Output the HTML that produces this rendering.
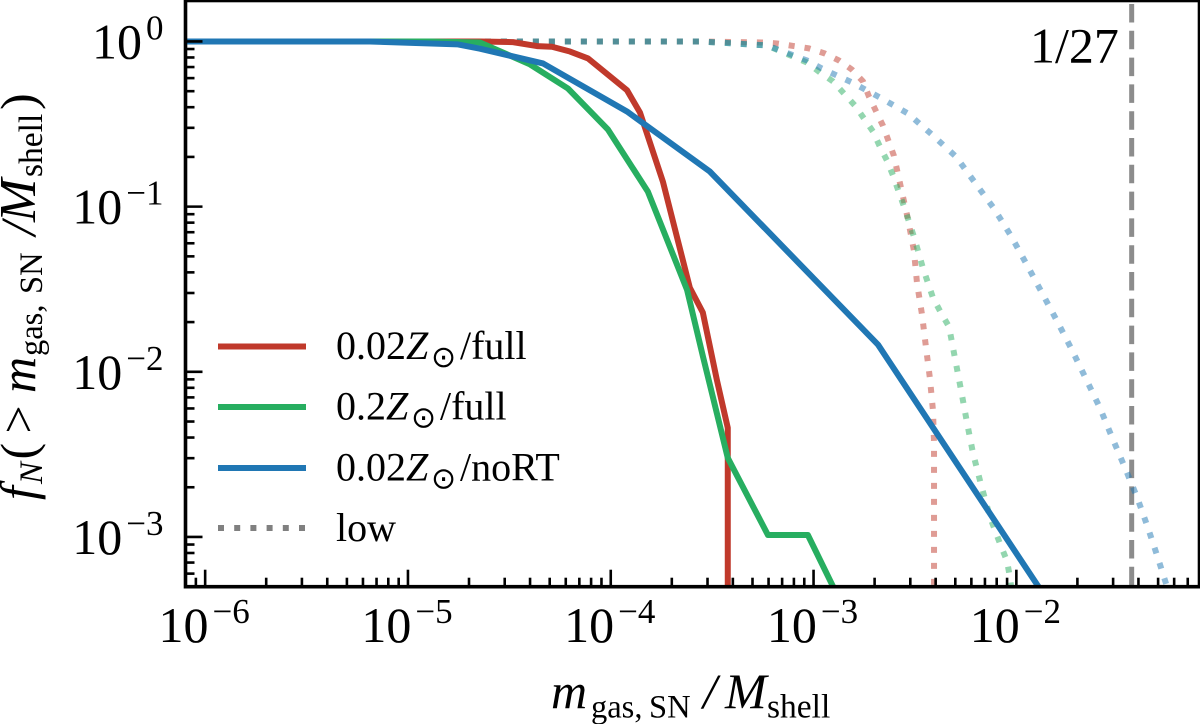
<!DOCTYPE html>
<html lang="en">
<head>
<meta charset="utf-8">
<title>Cumulative distribution of gas mass</title>
<style>
  html, body { margin: 0; padding: 0; background: #fff; }
  svg { display: block; }
  text { font-family: "Liberation Serif", "DejaVu Serif", serif; fill: #000; }
  .odot { font-family: "DejaVu Sans", sans-serif; }
</style>
</head>
<body>
<svg id="chart" xmlns="http://www.w3.org/2000/svg" width="1200" height="724" viewBox="0 0 1200 724">
  <defs>
    <clipPath id="plot-clip"><rect x="185.5" y="0.5" width="1014" height="586"/></clipPath>
  </defs>
  <g id="series" clip-path="url(#plot-clip)"></g>
  <g id="axes"></g>

  <text x="1030" y="62.5" font-size="50">1/27</text>

  <g>
    <g>
      <line x1="218" x2="306" y1="346.5" y2="346.5" stroke="#c0392b" stroke-width="6"/>
      <text x="336" y="359" font-size="40">0.02<tspan font-style="italic">Z</tspan><tspan class="odot" font-size="30" x="431" dy="8">⊙</tspan><tspan x="460" dy="-8">/full</tspan></text>
    </g>
    <g>
      <line x1="218" x2="306" y1="407" y2="407" stroke="#27ae60" stroke-width="6"/>
      <text x="336" y="419.5" font-size="40">0.2<tspan font-style="italic">Z</tspan><tspan class="odot" font-size="30" x="411" dy="8">⊙</tspan><tspan x="440" dy="-8">/full</tspan></text>
    </g>
    <g>
      <line x1="218" x2="306" y1="468" y2="468" stroke="#2077b4" stroke-width="6"/>
      <text x="336" y="480.5" font-size="40">0.02<tspan font-style="italic">Z</tspan><tspan class="odot" font-size="30" x="431" dy="8">⊙</tspan><tspan x="460" dy="-8">/noRT</tspan></text>
    </g>
    <g>
      <line x1="218" x2="306" y1="528" y2="528" stroke="#808080" stroke-width="6" stroke-dasharray="6 10.2"/>
      <text x="336" y="541" font-size="40">low</text>
    </g>
  </g>

  <text y="708" font-size="50"><tspan x="551" font-style="italic">m</tspan><tspan x="591" font-size="32.5" dy="9.5">gas,</tspan><tspan x="649" font-size="32.5">SN</tspan><tspan x="703" font-style="italic" dy="-9.5">/</tspan><tspan x="725" font-style="italic">M</tspan><tspan x="767" font-size="33.5" dy="9.5">shell</tspan></text>
  <text transform="translate(35,508) rotate(-90)" y="0" font-size="50"><tspan x="8" font-style="italic">f</tspan><tspan x="24" font-style="italic" font-size="33" dy="7">N</tspan><tspan x="48.5" dy="-7">(</tspan><tspan x="74.5">&gt;</tspan><tspan x="115" font-style="italic">m</tspan><tspan x="152" font-size="32.5" dy="7">gas,</tspan><tspan x="214" font-size="32.5">SN</tspan><tspan x="272.5" font-style="italic" dy="-7">/</tspan><tspan x="286" font-style="italic" font-size="52">M</tspan><tspan x="331" font-size="33.5" dy="7">shell</tspan><tspan x="398" dy="-7">)</tspan></text>
</svg>

<script>
// Axis tick exponents (decades)
const xTickExponents = [-6, -5, -4, -3, -2];
const yTickExponents = [0, -1, -2, -3];
const minorMultipliers = [2, 3, 4, 5, 6, 7, 8, 9];

// Axis limits
const xLimits = [8e-7, 0.08];
const yLimits = [5e-4, 1.77];

// Reference line value
const shellRatio = 1 / 27;

// Series values as log10 of mass ratio and log10 of cumulative fraction
const redFullLogMass = [-6.10, -4.645, -4.482, -4.364, -4.290, -4.201, -4.112, -3.920, -3.856, -3.743, -3.674, -3.610, -3.546, -3.477, -3.423, -3.423];
const redFullLogFrac = [0, 0, -0.004, -0.028, -0.032, -0.061, -0.103, -0.295, -0.430, -0.848, -1.182, -1.491, -1.641, -2.048, -2.339, -3.382];

const greenFullLogMass = [-6.10, -4.892, -4.645, -4.398, -4.211, -4.014, -3.817, -3.624, -3.545, -3.423, -3.225, -3.028, -2.845];
const greenFullLogFrac = [0, 0, -0.006, -0.139, -0.285, -0.533, -0.909, -1.503, -1.909, -2.521, -2.988, -2.988, -3.448];

const blueNoRtLogMass = [-6.10, -5.187, -4.753, -4.645, -4.334, -3.920, -3.511, -2.682, -1.893, -1.834];
const blueNoRtLogFrac = [0, 0, -0.018, -0.044, -0.133, -0.424, -0.788, -1.836, -3.297, -3.412];

const redLowLogMass = [-6.10, -3.56, -3.254, -3.18, -3.023, -2.944, -2.875, -2.811, -2.756, -2.727, -2.658, -2.604, -2.569, -2.535, -2.505, -2.490, -2.465, -2.446, -2.426, -2.411, -2.406, -2.406];
const redLowLogFrac = [0, 0, -0.006, -0.012, -0.042, -0.073, -0.115, -0.170, -0.242, -0.333, -0.509, -0.691, -0.885, -1.073, -1.267, -1.461, -1.655, -1.848, -2.042, -2.236, -2.430, -3.382];

const greenLowLogMass = [-6.10, -3.56, -3.23, -3.033, -2.968, -2.904, -2.850, -2.796, -2.751, -2.707, -2.673, -2.638, -2.608, -2.554, -2.505, -2.461, -2.411, -2.372, -2.332, -2.303, -2.273, -2.244, -2.214, -2.175, -2.130, -2.076, -2.046, -2.032, -2.017];
const greenLowLogFrac = [0, 0, -0.024, -0.127, -0.188, -0.242, -0.315, -0.388, -0.467, -0.545, -0.636, -0.721, -0.812, -1.0, -1.182, -1.370, -1.552, -1.642, -1.727, -1.915, -2.109, -2.303, -2.491, -2.679, -2.879, -3.055, -3.145, -3.242, -3.382];

const blueLowLogMass = [-6.10, -3.56, -3.23, -3.033, -2.959, -2.811, -2.673, -2.535, -2.416, -2.298, -2.204, -2.110, -2.027, -1.948, -1.874, -1.800, -1.726, -1.657, -1.588, -1.529, -1.464, -1.405, -1.351, -1.302, -1.252, -1.22];
const blueLowLogFrac = [0, 0, -0.024, -0.115, -0.164, -0.248, -0.339, -0.436, -0.564, -0.697, -0.855, -1.012, -1.176, -1.352, -1.521, -1.691, -1.867, -2.042, -2.218, -2.394, -2.582, -2.758, -2.945, -3.127, -3.321, -3.44];

const NS = 'http://www.w3.org/2000/svg';
const plotBox = { left: 185.5, right: 1199.5, top: 0.5, bottom: 586.7 };

const xLogMin = Math.log10(xLimits[0]);
const xLogMax = Math.log10(xLimits[1]);
const yLogMin = Math.log10(yLimits[0]);
const yLogMax = Math.log10(yLimits[1]);

function xScale(logValue) {
  return plotBox.left + (logValue - xLogMin) / (xLogMax - xLogMin) * (plotBox.right - plotBox.left);
}
function yScale(logValue) {
  return plotBox.bottom - (logValue - yLogMin) / (yLogMax - yLogMin) * (plotBox.bottom - plotBox.top);
}

function svgEl(tag) {
  return document.createElementNS(NS, tag);
}

const seriesLayer = document.getElementById('series');
const axesLayer = document.getElementById('axes');

function drawSeries(name, xs, ys, color, width, opacity, dash, offset) {
  const path = svgEl('polyline');
  
  
  path.setAttribute('points', xs.map((v, i) => xScale(v).toFixed(2) + ',' + yScale(ys[i]).toFixed(2)).join(' '));
  path.setAttribute('fill', 'none');
  path.setAttribute('stroke', color);
  path.setAttribute('stroke-width', width);
  path.setAttribute('stroke-linejoin', 'round');
  path.setAttribute('stroke-opacity', opacity);
  if (dash) {
    path.setAttribute('stroke-dasharray', dash);
    path.setAttribute('stroke-dashoffset', offset);
  }
  seriesLayer.appendChild(path);
}

const refX = xScale(Math.log10(shellRatio));
const refLine = svgEl('line');


refLine.setAttribute('x1', refX);
refLine.setAttribute('x2', refX);
refLine.setAttribute('y1', 4);
refLine.setAttribute('y2', plotBox.bottom);
refLine.setAttribute('stroke', '#8c8c8c');
refLine.setAttribute('stroke-width', 5);
refLine.setAttribute('stroke-dasharray', '18.5 8.3');
seriesLayer.appendChild(refLine);

const lowDash = '6 10';
drawSeries('series-red-low', redLowLogMass, redLowLogFrac, '#c0392b', 6, 0.5, lowDash, 4);
drawSeries('series-green-low', greenLowLogMass, greenLowLogFrac, '#27ae60', 6, 0.5, lowDash, 4);
drawSeries('series-blue-low', blueLowLogMass, blueLowLogFrac, '#2077b4', 6, 0.5, lowDash, 4);
drawSeries('series-red-full', redFullLogMass, redFullLogFrac, '#c0392b', 6, 1);
drawSeries('series-green-full', greenFullLogMass, greenFullLogFrac, '#27ae60', 6, 1);
drawSeries('series-blue-nort', blueNoRtLogMass, blueNoRtLogFrac, '#2077b4', 6, 1);

function drawTick(name, x1, y1, x2, y2) {
  const tick = svgEl('line');
  
  
  tick.setAttribute('x1', x1);
  tick.setAttribute('y1', y1);
  tick.setAttribute('x2', x2);
  tick.setAttribute('y2', y2);
  tick.setAttribute('stroke', '#000');
  tick.setAttribute('stroke-width', 2.6);
  axesLayer.appendChild(tick);
}

function drawPowerLabel(name, exponent, x, y, anchor) {
  const label = svgEl('text');
  
  
  label.setAttribute('x', x);
  label.setAttribute('y', y);
  label.setAttribute('font-size', 50);
  label.setAttribute('text-anchor', anchor);
  label.appendChild(document.createTextNode('10'));
  const sup = svgEl('tspan');
  sup.setAttribute('font-size', 35);
  sup.setAttribute('dy', -19);
  sup.setAttribute('dx', 4);
  sup.textContent = String(exponent).replace('-', '\u2212');
  label.appendChild(sup);
  axesLayer.appendChild(label);
}

for (const e of xTickExponents) {
  const px = xScale(e);
  drawTick('x-major-tick', px, plotBox.bottom, px, plotBox.bottom - 17);
  drawPowerLabel('x-tick-label', e, px - 1, 642, 'middle');
}
for (let e = -7; e <= -2; e++) {
  for (const m of minorMultipliers) {
    const logValue = e + Math.log10(m);
    if (logValue < xLogMin || logValue > xLogMax) continue;
    const px = xScale(logValue);
    drawTick('x-minor-tick', px, plotBox.bottom, px, plotBox.bottom - 9);
  }
}
for (const e of yTickExponents) {
  const py = yScale(e);
  drawTick('y-major-tick', plotBox.left, py, plotBox.left + 17, py);
  drawPowerLabel('y-tick-label', e, 163.5, py + 17, 'end');
}
for (let e = -4; e <= 0; e++) {
  for (const m of minorMultipliers) {
    const logValue = e + Math.log10(m);
    if (logValue < yLogMin || logValue > yLogMax) continue;
    const py = yScale(logValue);
    drawTick('y-minor-tick', plotBox.left, py, plotBox.left + 9, py);
  }
}

const frame = svgEl('rect');


frame.setAttribute('x', plotBox.left);
frame.setAttribute('y', plotBox.top);
frame.setAttribute('width', plotBox.right - plotBox.left);
frame.setAttribute('height', plotBox.bottom - plotBox.top);
frame.setAttribute('fill', 'none');
frame.setAttribute('stroke', '#000');
frame.setAttribute('stroke-width', 3.6);
axesLayer.appendChild(frame);
</script>
</body>
</html>
